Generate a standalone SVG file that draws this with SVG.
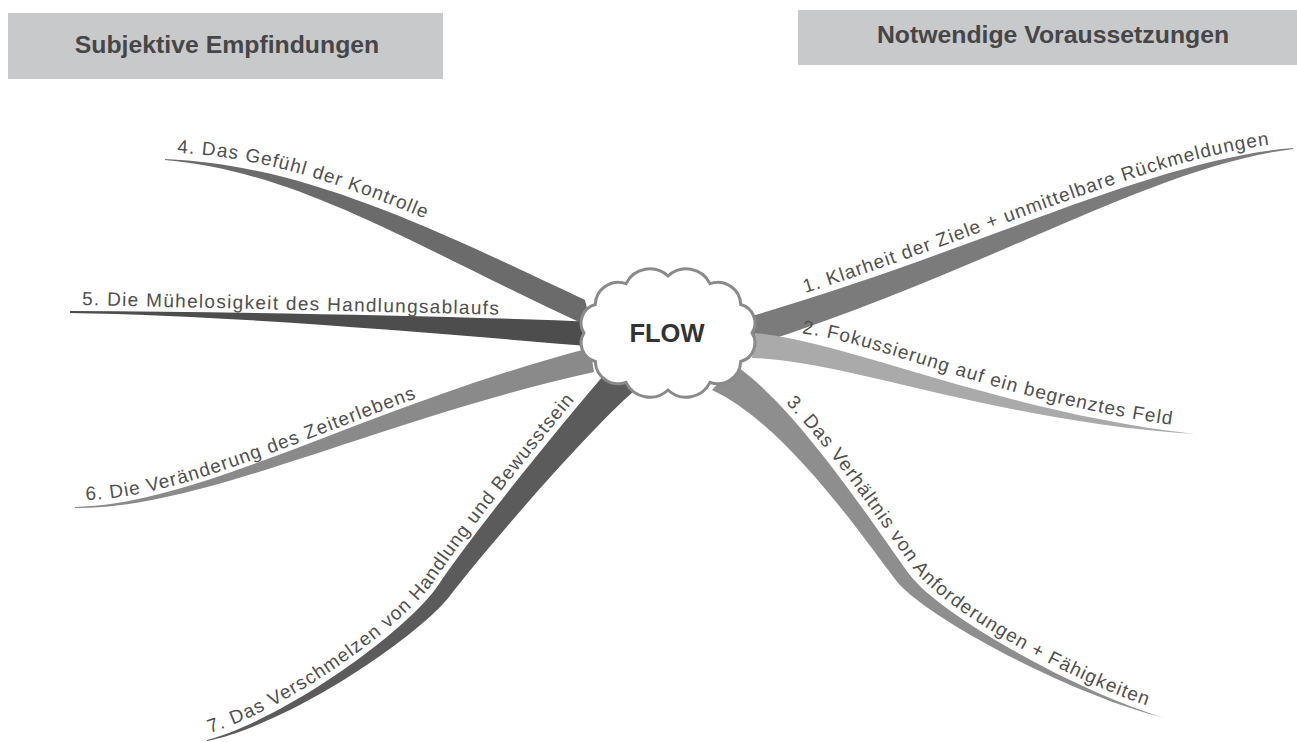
<svg xmlns="http://www.w3.org/2000/svg" xmlns:xlink="http://www.w3.org/1999/xlink" width="1297" height="742" viewBox="0 0 1297 742">
<style>
.hdr{fill:#c8c9cb}
.hdrt{font-family:"Liberation Sans",Arial,sans-serif;font-weight:bold;font-size:24.8px;fill:#464646;text-anchor:middle}
.lbl{font-family:"Liberation Sans",Arial,sans-serif;font-size:19px;fill:#4f4f4f;letter-spacing:1.1px}
.cloud{fill:#ffffff;stroke:#8a8a8a;stroke-width:3}
.flow{font-family:"Liberation Sans",Arial,sans-serif;font-weight:bold;font-size:25.5px;fill:#333333;text-anchor:middle}
</style>
<defs>
<path id="tp1" d="M743,312 C978,244 1148,154 1295,142"/>
<path id="tp2" d="M800,333 C880,342 1010,406 1196,428"/>
<path id="tp3" d="M744,367 C804,405 885,531 915,571 C945,611 1077,686 1167,712"/>
<path id="tp4" d="M177,153 C300,158 422,215 590,293"/>
<path id="tp5" d="M82,305 L600,317"/>
<path id="tp6" d="M86,500 C205,498 374,399 592,342"/>
<path id="tp7" d="M206,734 C285,712 400,628 432,584 C470,527 560,416 610,358"/>
</defs>
<rect width="1297" height="742" fill="#ffffff"/>
<g id="header-left">
<rect class="hdr" x="8" y="13" width="435" height="66"/>
<text class="hdrt" x="227" y="53">Subjektive Empfindungen</text>
</g>
<g id="header-right">
<rect class="hdr" x="798" y="10" width="499" height="55"/>
<text class="hdrt" x="1053" y="43">Notwendige Voraussetzungen</text>
</g>
<g id="connectors">
<path id="branch-4" fill="#6b6b6b" d="M165,159 C300,165 420,222 585,300 L592,328 C410,244 300,172 165,160 Z"/>
<path id="branch-5" fill="#4d4d4d" d="M70,311 C250,312 450,316 600,322 L600,347 C450,335 250,316 70,313 Z"/>
<path id="branch-6" fill="#8a8a8a" d="M75,507 C200,505 370,405 590,348 L594,372 C378,420 200,510 75,508 Z"/>
<path id="branch-7" fill="#5b5b5b" d="M207,740 C287,718 405,632 437,587 C475,530 565,420 615,362 L640,386 C600,418 497,535 449,597 C414,640 289,724 207,741 Z"/>
<path id="branch-1" fill="#7b7b7b" d="M1293,148 C1150,160 980,250 745,318 L754,345 C990,270 1151,167 1293,149 Z"/>
<path id="branch-2" fill="#aaaaaa" d="M755,333 C850,342 1000,412 1195,434 C998,422 847,360 752,358 Z"/>
<path id="branch-3" fill="#8e8e8e" d="M735,365 C800,410 880,535 910,575 C940,615 1075,691 1165,718 C1073,696 933,621 899,584 C868,545 788,425 712,390 Z"/>
</g>
<g id="node-flow">
<path class="cloud" d="M752,333 A19,19 0 0 1 740.7,361.5 A23,23 0 0 1 710,382.4 A26.5,26.5 0 0 1 668,390 A26.5,26.5 0 0 1 626,382.4 A23,23 0 0 1 595.3,361.5 A19,19 0 0 1 584,333 A19,19 0 0 1 595.3,304.5 A23,23 0 0 1 626,283.6 A26.5,26.5 0 0 1 668,276 A26.5,26.5 0 0 1 710,283.6 A23,23 0 0 1 740.7,304.5 A19,19 0 0 1 752,333 Z"/>
<text class="flow" x="667" y="342">FLOW</text>
</g>
<g id="node-1"><text class="lbl"><textPath xlink:href="#tp1" href="#tp1" startOffset="65">1. Klarheit der Ziele + unmittelbare Rückmeldungen</textPath></text></g>
<g id="node-2"><text class="lbl"><textPath xlink:href="#tp2" href="#tp2" startOffset="2">2. Fokussierung auf ein begrenztes Feld</textPath></text></g>
<g id="node-3"><text class="lbl"><textPath xlink:href="#tp3" href="#tp3" startOffset="55">3. Das Verhältnis von Anforderungen + Fähigkeiten</textPath></text></g>
<g id="node-4"><text class="lbl"><textPath xlink:href="#tp4" href="#tp4">4. Das Gefühl der Kontrolle</textPath></text></g>
<g id="node-5"><text class="lbl" style="letter-spacing:1.3px"><textPath xlink:href="#tp5" href="#tp5">5. Die Mühelosigkeit des Handlungsablaufs</textPath></text></g>
<g id="node-6"><text class="lbl"><textPath xlink:href="#tp6" href="#tp6">6. Die Veränderung des Zeiterlebens</textPath></text></g>
<g id="node-7"><text class="lbl"><textPath xlink:href="#tp7" href="#tp7" startOffset="4">7. Das Verschmelzen von Handlung und Bewusstsein</textPath></text></g>
</svg>
